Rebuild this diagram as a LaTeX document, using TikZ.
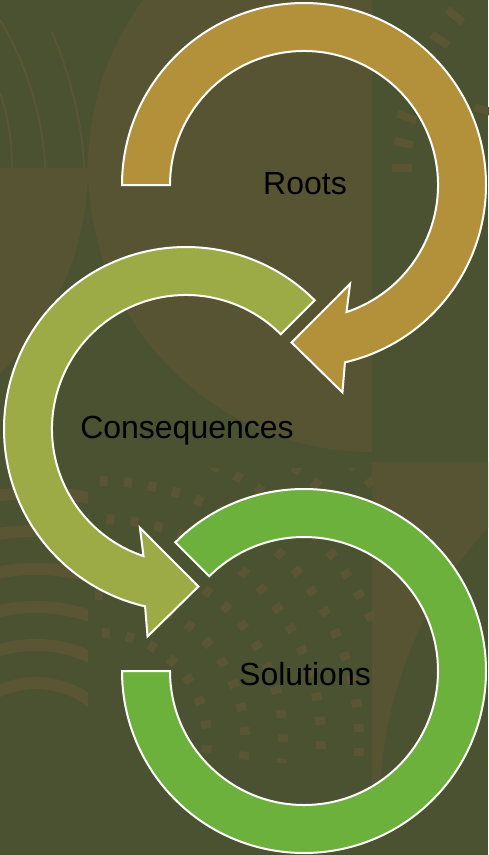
\documentclass[tikz,border=0pt]{standalone}
\usepackage{fontspec}
\setmainfont{Liberation Sans}
\usetikzlibrary{calc}
\definecolor{bgdark}{HTML}{4B5231}
\definecolor{bglight}{HTML}{565433}
\definecolor{bgdash}{HTML}{5A5535}
\definecolor{rootsgold}{HTML}{B3913A}
\definecolor{consolive}{HTML}{9CAB45}
\definecolor{solgreen}{HTML}{6CB13C}
\tikzset{
	band/.style = {draw = white, line width = 2pt, line join = miter},
	ringtext/.style = {font = \fontsize{32}{38}\selectfont, text = black, inner sep = 0pt},
	dashmark/.style = {draw = bgdash, line width = 8pt},
	stripe/.style = {draw = bgdash, line width = 12pt},
	thinarc/.style = {draw = bgdash, line width = 2pt}
}

\begin{document}
\begin{tikzpicture}[x = 1pt, y = -1pt]
	\useasboundingbox (0,0) rectangle (488,855);
	\fill[bgdark] (0,0) rectangle (488,855);
	\begin{scope}
		\clip (0,0) rectangle (372,462);
		\fill[bglight] (372,168) circle[radius = 284];
	\end{scope}
	\begin{scope}
		\clip (0,168) rectangle (372,462);
		\fill[bglight] (-196,168) circle[radius = 284];
	\end{scope}
	\fill[bglight] (372,462) -- (488,462) -- (488,528) .. controls (430,590) and (385,680) .. (380,790) -- (372,790) -- cycle;
	\draw[thinarc] (0,20) .. controls (25,60) and (44,120) .. (45,168);
	\draw[thinarc] (0,93) .. controls (8,115) and (12,140) .. (12,168);
	\draw[thinarc] (52,32) .. controls (70,75) and (83,125) .. (84,168);
	\foreach \x/\y/\t in {402/168/0, 404/143/-12, 407/117/-20, 440/40/-35, 455/16/-40, 484/110/-15}
		\draw[dashmark, rotate around = {\t:(\x,\y)}] (\x-10,\y) -- (\x+10,\y);

	\coordinate (stripec) at (36,773);
	\coordinate (dashc) at (100,740);
	\begin{scope}
		\clip (0,470) rectangle (88,765);
		\foreach \r in {90,128,...,320}
			\draw[stripe] (stripec) circle[radius = \r];
	\end{scope}
	\begin{scope}
		\clip (88,468) rectangle (375,762);
		\foreach \r in {107,145,...,411}{
			\pgfmathsetmacro{\dstep}{1400/\r}
			\pgfmathsetmacro{\dnext}{-100+\dstep}
			\pgfmathsetmacro{\rin}{\r-5}
			\pgfmathsetmacro{\rout}{\r+5}
			\foreach \a in {-100,\dnext,...,25}
				\draw[dashmark] ($(dashc)+(\a:\rin)$) -- ($(dashc)+(\a:\rout)$);
		}
	\end{scope}

	\coordinate (rootsc) at (304,185);
	\coordinate (conseqc) at (186,429);
	\coordinate (solc) at (304,671);

	\filldraw[band, fill = rootsgold] ($(rootsc)+(180:182)$) arc[start angle = 180, end angle = 437, radius = 182]
		-- ($(rootsc)+(79.5:211)$) -- ($(rootsc)+(94.5:158)$) -- ($(rootsc)+(65:109)$) -- ($(rootsc)+(71.5:134)$)
		arc[start angle = 431.5, end angle = 180, radius = 134] -- cycle;
	\filldraw[band, fill = consolive] ($(conseqc)+(-45:182)$) arc[start angle = -45, end angle = -257, radius = 182]
		-- ($(conseqc)+(100.5:211)$) -- ($(conseqc)+(85.5:158)$) -- ($(conseqc)+(115:109)$) -- ($(conseqc)+(108.5:134)$)
		arc[start angle = -251.5, end angle = -45, radius = 134] -- cycle;
	\filldraw[band, fill = solgreen] ($(solc)+(225:182)$) arc[start angle = 225, end angle = 540, radius = 182]
		-- ($(solc)+(180:134)$) arc[start angle = 540, end angle = 225, radius = 134] -- cycle;

	\node[ringtext] (roots) at (305,184) {Roots};
	\node[ringtext] (conseq) at (187,431) {Consequences};
	\node[ringtext] (solut) at (305,674) {Solutions};
\end{tikzpicture}
\end{document}
